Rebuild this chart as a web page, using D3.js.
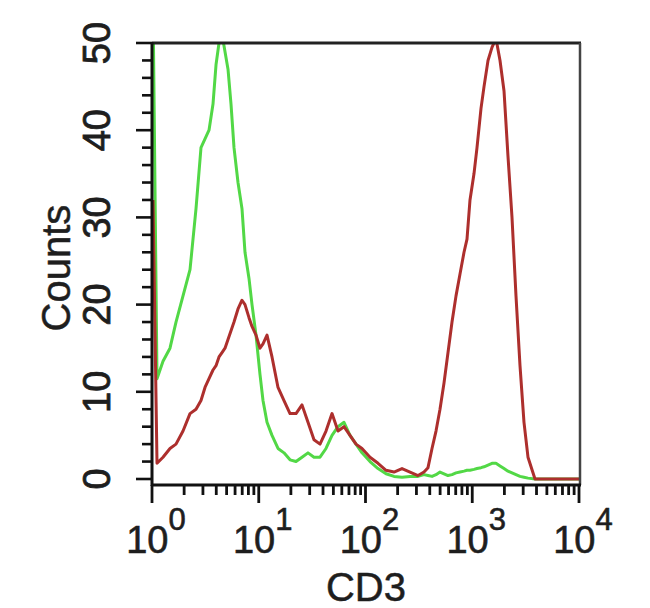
<!DOCTYPE html>
<html><head><meta charset="utf-8">
<script src="https://cdn.jsdelivr.net/npm/d3@7"></script>
<style>body{margin:0;background:#fff}</style></head>
<body>
<svg id="c" width="650" height="608"></svg>
<script>
// CD3 fluorescence channel centers (linear intensity units, log-displayed)
const fluorescence = [1.022,1.114,1.268,1.474,1.678,1.952,2.270,2.584,2.877,3.137,3.420,3.728,3.978,4.243,4.527,4.830,5.152,5.497,5.864,6.393,6.967,7.433,8.103,8.646,9.425,10.27,10.96,11.95,13.31,15.15,17.24,19.63,22.34,25.42,28.93,32.93,37.49,42.66,48.56,55.26,62.90,71.58,81.47,92.73,110.2,131.0,155.7,184.9,219.8,261.2,310.4,353.3,385.0,419.8,457.6,498.8,543.8,592.8,646.2,704.5,767.9,837.2,893.1,952.6,1038,1108,1208,1289,1405,1531,1669,1820,1984,2162,2357,2569,2801,3053,3328,3871,5585,10000];
// isotype control (green)
const controlCounts = [55,11.5,13.5,15,18,21,24,31,38,39,40,43,47.5,50,51,49,47,43,38,34,31,26,23,20,16.5,12,9,6.5,5,3.5,3,2.2,2,2.5,3,2.5,2.5,3.5,5,6,6.5,5,4,3,2,1.2,0.6,0.3,0.2,0.3,0.3,0.5,0.4,0.3,0.5,0.8,0.6,0.4,0.5,0.7,0.8,0.9,1,1,1.1,1.2,1.3,1.4,1.6,1.8,1.8,1.5,1.2,0.9,0.7,0.5,0.3,0.2,0.1,0,0,0];
// CD3 stained (red)
const cd3Counts = [32,1.8,2.5,3.5,4,5.5,7.5,8,9,10.5,11.5,12.5,13,14,14.5,15,16,17,18,19.5,20.5,20,18.5,17.5,16.5,15,15.5,16.5,14,10.5,9,7.5,7.5,8.5,6.5,4.5,4,5.5,7.5,5.5,6,5,4,3.5,2.5,1.8,1,0.8,1.2,0.8,0.4,0.8,1.3,3.5,5.5,8,11,14.5,18,21,23.5,26,27.5,32,35,38,42.5,45,48,49.5,50.5,48,44.5,37,30,21,13,6.5,2.5,0,0,0];
const decadeTicks = [1,10,100,1000,10000];
const decadeExponents = ["0","1","2","3","4"];
const countTicks = [0,10,20,30,40,50];
const xTitle = "CD3";
const yTitle = "Counts";

const svg = d3.select("#c");
const pLeft = 152, pRight = 579, pTop = 43, pBottom = 485;
const x = d3.scaleLog().domain([1, 10000]).range([pLeft, pRight]);
const y = d3.scaleLinear().domain([0, 50]).range([479, pTop]);
const font = "'Liberation Sans', Arial, Helvetica, sans-serif";
const ink = "#1e1e1e";

svg.append("defs").append("clipPath").attr("id","clip")
  .append("rect").attr("x", pLeft).attr("y", pTop).attr("width", pRight - pLeft + 2).attr("height", pBottom - pTop);

const lineGen = d3.line().x((d,i) => x(fluorescence[i])).y(d => y(d));
const plot = svg.append("g").attr("clip-path","url(#clip)");
plot.append("path").datum(controlCounts).attr("d", lineGen)
  .attr("fill","none").attr("stroke","#52d846").attr("stroke-width",3).attr("stroke-linejoin","round");
plot.append("path").datum(cd3Counts).attr("d", lineGen)
  .attr("fill","none").attr("stroke","#ad2f2d").attr("stroke-width",3).attr("stroke-linejoin","round");

// frame
svg.append("line").attr("x1",pLeft).attr("x2",pRight+2).attr("y1",pTop).attr("y2",pTop).attr("stroke","#222").attr("stroke-width",3);
svg.append("line").attr("x1",pRight+1).attr("x2",pRight+1).attr("y1",pTop).attr("y2",pBottom).attr("stroke","#444").attr("stroke-width",2.5);
svg.append("line").attr("x1",pLeft).attr("x2",pLeft).attr("y1",pTop-1).attr("y2",pBottom+1).attr("stroke","#111").attr("stroke-width",3);
svg.append("line").attr("x1",pLeft-1).attr("x2",pRight+2).attr("y1",pBottom).attr("y2",pBottom).attr("stroke","#111").attr("stroke-width",3);

// x ticks
const xAll = x.ticks();
svg.append("g").selectAll("line").data(xAll).join("line")
  .attr("x1", d => x(d)).attr("x2", d => x(d))
  .attr("y1", pBottom).attr("y2", d => decadeTicks.includes(d) ? 503 : 495)
  .attr("stroke","#111").attr("stroke-width",2.8);
// y ticks
const yAll = d3.range(0, 51, 2);
svg.append("g").selectAll("line").data(yAll).join("line")
  .attr("y1", d => y(d)).attr("y2", d => y(d))
  .attr("x1", pLeft).attr("x2", d => d % 10 === 0 ? 136 : 142)
  .attr("stroke","#111").attr("stroke-width",2.6);

// x tick labels
const xl = svg.append("g").selectAll("text").data(decadeTicks).join("text")
  .attr("x", d => x(d) + 4).attr("y", 553)
  .attr("text-anchor","middle").attr("font-family",font).attr("fill",ink)
  .attr("stroke",ink).attr("stroke-width",0.6);
xl.append("tspan").attr("font-size",38).text("10");
xl.append("tspan").attr("font-size",31).attr("dy",-23).text((d,i) => decadeExponents[i]);

// y tick labels
svg.append("g").selectAll("text").data(countTicks).join("text")
  .attr("transform", d => `translate(110,${y(d)}) rotate(-90)`)
  .attr("text-anchor","middle").attr("font-family",font).attr("font-size",38).attr("fill",ink)
  .attr("stroke",ink).attr("stroke-width",0.8)
  .text(d => d);

// titles
svg.append("text").attr("transform","translate(70,268) rotate(-90)")
  .attr("text-anchor","middle").attr("font-family",font).attr("font-size",40).attr("fill",ink)
  .attr("stroke",ink).attr("stroke-width",0.5).text(yTitle);
svg.append("text").attr("x",366).attr("y",601)
  .attr("text-anchor","middle").attr("font-family",font).attr("font-size",40).attr("fill",ink)
  .attr("stroke",ink).attr("stroke-width",0.5).text(xTitle);
</script>
</body></html>
